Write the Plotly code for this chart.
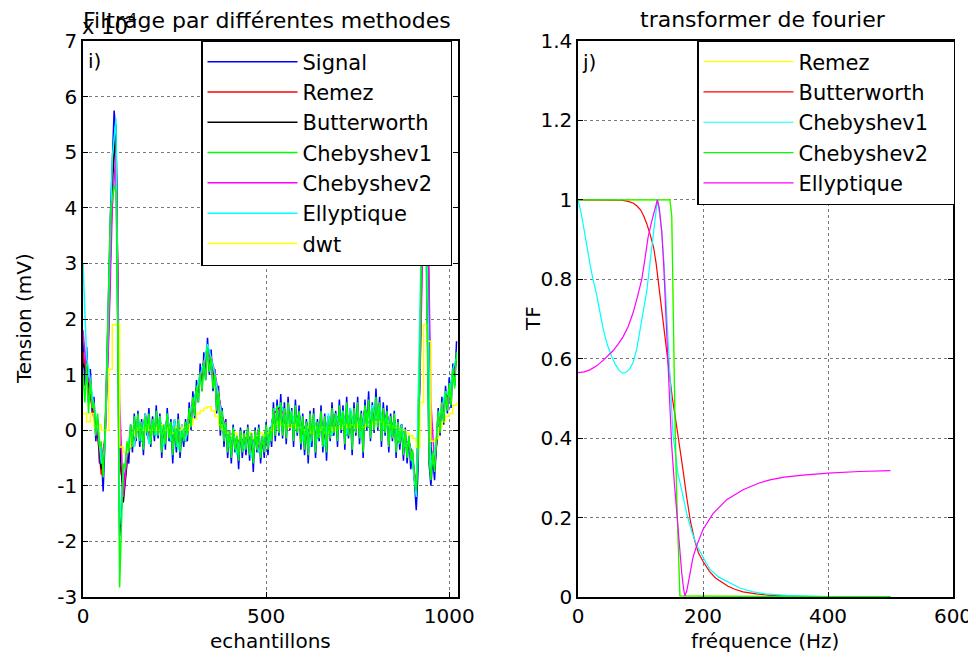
import plotly.graph_objects as go

# ---------------- Left panel data (values in units of 1e-4 mV) ----------------
samples_5 = list(range(0, 1025, 5))    # sample index, step 5
samples_10 = list(range(0, 1025, 10))  # sample index, step 10

signal = [
    1.6, 0.8, 1.5, 0.5, 1.1, 0.3, 0.6, -0.2, 0.2, -0.6,
    -0.4, -1.1, -0.2, 1.2, 2.5, 3.9, 4.8, 5.75, 5.3, 1.5,
    -1.9, -1.4, -0.8, -0.9, -0.3, -0.6, 0.1, -0.4, 0.3, -0.2,
    0.35, -0.3, 0.2, -0.45, 0.3, -0.1, 0.4, -0.3, 0.25, -0.2,
    0.45, -0.15, 0.3, -0.5, 0.1, -0.35, 0.4, -0.2, 0.2, -0.6,
    0.1, -0.4, 0.3, -0.5, 0.0, -0.3, 0.2, -0.2, 0.5, 0.0,
    0.7, 0.2, 0.9, 0.5, 1.2, 0.7, 1.4, 0.9, 1.66, 1.0,
    1.45, 0.7, 1.1, 0.3, 0.8, -0.1, 0.4, -0.3, 0.2, -0.5,
    0.0, -0.6, 0.1, -0.4, -0.1, -0.7, 0.05, -0.5, 0.0, -0.45,
    0.1, -0.55, -0.05, -0.75, 0.05, -0.4, 0.1, -0.6, -0.1, -0.5,
    0.15, -0.45, 0.05, -0.3, 0.5, -0.2, 0.55, -0.1, 0.65, -0.15,
    0.5, -0.25, 0.6, 0.0, 0.4, -0.3, 0.55, -0.1, 0.45, -0.35,
    0.3, -0.45, 0.2, -0.6, 0.35, -0.3, 0.4, -0.5, 0.2, -0.2,
    0.45, -0.4, 0.3, -0.55, 0.25, -0.2, 0.5, -0.1, 0.35, -0.3,
    0.55, -0.05, 0.45, -0.35, 0.6, -0.15, 0.4, -0.45, 0.5, -0.1,
    0.6, -0.25, 0.35, -0.5, 0.55, 0.0, 0.7, -0.2, 0.5, -0.05,
    0.75, 0.0, 0.6, -0.3, 0.5, -0.1, 0.45, -0.4, 0.3, -0.2,
    0.35, -0.5, 0.2, -0.35, 0.1, -0.55, 0.05, -0.6, -0.1, -0.7,
    -0.4, -0.9, -1.44, -0.7, 1.5, 4.0, 5.3, 4.8, 1.5, -0.6,
    -1.0, -0.5, -0.9, -0.2, 0.4, -0.1, 0.6, 0.1, 0.8, 0.3,
    0.95, 0.4, 1.2, 0.8, 1.6,
]

chebyshev1 = [
    1.0, 0.5, 1.2, 0.3, 0.9, 0.4, 0.5, -0.1, 0.3, -0.3,
    -0.2, -0.85, -0.1, 1.0, 2.5, 3.9, 4.2, 4.4, 4.3, 2.0,
    -2.83, -1.5, -0.6, -0.7, -0.2, -0.4, 0.1, -0.3, 0.25, -0.15,
    0.3, -0.2, 0.15, -0.35, 0.25, -0.05, 0.3, -0.25, 0.2, -0.1,
    0.35, -0.1, 0.25, -0.4, 0.1, -0.25, 0.3, -0.15, 0.15, -0.45,
    0.05, -0.3, 0.2, -0.4, 0.0, -0.2, 0.15, -0.1, 0.4, 0.05,
    0.6, 0.25, 0.8, 0.5, 1.05, 0.7, 1.25, 0.9, 1.5, 1.05,
    1.3, 0.75, 1.0, 0.35, 0.7, 0.0, 0.35, -0.2, 0.15, -0.4,
    0.0, -0.5, 0.05, -0.35, -0.1, -0.55, 0.0, -0.4, -0.05, -0.35,
    0.05, -0.45, -0.05, -0.6, 0.0, -0.35, 0.05, -0.5, -0.1, -0.4,
    0.1, -0.35, 0.05, -0.2, 0.4, -0.1, 0.45, -0.05, 0.5, -0.1,
    0.4, -0.15, 0.5, 0.05, 0.35, -0.2, 0.45, -0.05, 0.35, -0.25,
    0.25, -0.35, 0.15, -0.45, 0.3, -0.2, 0.3, -0.4, 0.15, -0.15,
    0.35, -0.3, 0.25, -0.4, 0.2, -0.15, 0.4, -0.05, 0.3, -0.2,
    0.45, 0.0, 0.35, -0.25, 0.5, -0.1, 0.35, -0.35, 0.4, -0.05,
    0.5, -0.15, 0.3, -0.4, 0.45, 0.05, 0.55, -0.15, 0.4, 0.0,
    0.6, 0.05, 0.5, -0.2, 0.4, -0.05, 0.35, -0.3, 0.25, -0.15,
    0.3, -0.4, 0.15, -0.25, 0.05, -0.45, 0.0, -0.5, -0.1, -0.55,
    -0.35, -0.8, -1.1, -0.5, 1.2, 3.8, 4.5, 4.0, 1.2, -0.5,
    -0.9, -0.4, -0.75, -0.15, 0.35, -0.05, 0.5, 0.15, 0.7, 0.35,
    0.85, 0.45, 1.1, 0.75, 1.4,
]

remez = [
    1.4, 0.9, 0.6, 0.2, -0.1, -0.8, -0.1, 2.0, 4.6, 5.4,
    -0.6, -1.0, -0.5, -0.1, -0.3, 0.2, -0.2, 0.3, -0.2, 0.2,
    -0.1, 0.2, -0.3, 0.2, -0.2, 0.2, -0.3, 0.1, -0.2, 0.2,
    0.4, 0.7, 0.95, 1.15, 1.5, 1.25, 0.95, 0.6, 0.2, 0.0,
    -0.3, -0.05, -0.4, -0.1, -0.35, -0.05, -0.45, -0.1, -0.4, -0.2,
    0.0, -0.15, 0.3, 0.35, 0.4, 0.3, 0.05, 0.3, 0.0, 0.3,
    -0.15, 0.15, -0.25, 0.2, -0.15, 0.2, -0.25, 0.25, -0.1, 0.3,
    0.1, 0.3, -0.1, 0.35, 0.0, 0.3, -0.1, 0.4, 0.05, 0.4,
    0.2, 0.4, 0.0, 0.3, -0.1, 0.2, -0.2, 0.1, -0.3, -0.2,
    -0.5, -1.1, 1.5, 5.0, 4.0, -0.5, -0.6, 0.1, 0.4, 0.65,
    0.6, 1.0, 1.25,
]

butterworth = [
    1.2, 1.0, 0.7, 0.3, 0.0, -0.7, -0.2, 1.8, 4.4, 5.5,
    -0.2, -1.3, -0.6, -0.2, -0.25, 0.15, -0.2, 0.25, -0.2, 0.15,
    -0.05, 0.2, -0.25, 0.25, -0.2, 0.15, -0.3, 0.05, -0.2, 0.2,
    0.4, 0.75, 0.95, 1.2, 1.5, 1.3, 1.0, 0.65, 0.25, 0.0,
    -0.25, -0.05, -0.4, -0.1, -0.3, -0.05, -0.45, -0.1, -0.35, -0.2,
    0.0, -0.15, 0.3, 0.35, 0.45, 0.3, 0.05, 0.3, 0.0, 0.3,
    -0.15, 0.15, -0.25, 0.2, -0.15, 0.2, -0.25, 0.25, -0.1, 0.3,
    0.1, 0.3, -0.1, 0.35, 0.0, 0.3, -0.1, 0.4, 0.05, 0.4,
    0.2, 0.4, 0.0, 0.3, -0.1, 0.2, -0.2, 0.1, -0.3, -0.2,
    -0.5, -1.2, 1.0, 4.8, 4.5, -0.3, -0.7, 0.1, 0.4, 0.65,
    0.6, 1.05, 1.25,
]

chebyshev2 = [
    1.8, 1.0, 0.8, 0.35, 0.0, -0.5, -0.2, 1.6, 4.0, 5.0,
    0.5, -1.2, -0.5, -0.2, -0.3, 0.2, -0.15, 0.25, -0.2, 0.15,
    -0.05, 0.2, -0.25, 0.25, -0.15, 0.15, -0.3, 0.05, -0.15, 0.25,
    0.4, 0.7, 0.95, 1.15, 1.45, 1.3, 1.05, 0.65, 0.25, 0.05,
    -0.25, 0.0, -0.4, -0.1, -0.3, -0.05, -0.45, -0.1, -0.35, -0.2,
    0.0, -0.15, 0.3, 0.35, 0.4, 0.25, 0.1, 0.3, 0.0, 0.25,
    -0.15, 0.1, -0.25, 0.2, -0.1, 0.15, -0.25, 0.25, -0.05, 0.25,
    0.1, 0.3, -0.05, 0.35, 0.0, 0.3, -0.1, 0.35, 0.05, 0.4,
    0.2, 0.4, 0.0, 0.25, -0.05, 0.15, -0.15, 0.05, -0.25, -0.2,
    -0.5, -1.0, 0.8, 4.2, 4.8, 0.5, -0.6, 0.1, 0.35, 0.6,
    0.55, 1.0, 1.2,
]

ellyptique = [
    3.0, 1.3, 0.9, 0.4, 0.1, -0.6, -0.3, 2.4, 4.9, 5.6,
    -1.7, -0.8, -0.4, 0.0, -0.3, 0.25, -0.2, 0.3, -0.25, 0.2,
    -0.1, 0.25, -0.3, 0.3, -0.2, 0.2, -0.35, 0.1, -0.2, 0.3,
    0.45, 0.75, 1.0, 1.2, 1.55, 1.3, 1.0, 0.6, 0.2, 0.0,
    -0.3, 0.0, -0.45, -0.1, -0.35, -0.05, -0.5, -0.1, -0.4, -0.2,
    0.0, -0.2, 0.35, 0.4, 0.45, 0.3, 0.1, 0.35, 0.0, 0.3,
    -0.2, 0.15, -0.3, 0.25, -0.15, 0.2, -0.3, 0.3, -0.1, 0.3,
    0.1, 0.35, -0.1, 0.4, 0.0, 0.35, -0.15, 0.4, 0.05, 0.45,
    0.2, 0.45, 0.0, 0.3, -0.1, 0.2, -0.2, 0.1, -0.3, -0.2,
    -0.6, -1.2, 2.5, 5.5, 3.0, -0.7, -0.4, 0.2, 0.4, 0.7,
    0.6, 1.1, 1.3,
]

dwt = [
    0.3, 0.15, 0.3, 0.05, 0.1, 0.0, 0.0, 1.1, 1.9, 1.9,
    -0.3, -0.4, -0.3, -0.05, 0.0, 0.05, 0.0, 0.1, 0.0, 0.05,
    0.0, 0.1, 0.0, 0.05, -0.05, 0.05, 0.0, 0.05, 0.0, 0.1,
    0.2, 0.3, 0.35, 0.4, 0.42, 0.35, 0.25, 0.1, 0.0, -0.05,
    -0.1, -0.05, -0.15, -0.1, -0.1, -0.05, -0.15, -0.1, -0.05, -0.1,
    -0.05, 0.0, 0.1, 0.15, 0.1, 0.1, 0.05, 0.1, 0.05, 0.05,
    0.0, 0.05, -0.05, 0.05, 0.0, 0.05, -0.05, 0.05, 0.0, 0.05,
    0.05, 0.1, 0.05, 0.1, 0.05, 0.1, 0.05, 0.1, 0.1, 0.15,
    0.15, 0.15, 0.1, 0.1, 0.05, 0.05, 0.0, 0.0, -0.05, -0.1,
    -0.15, -0.3, 0.5, 1.9, 1.6, -0.2, -0.15, 0.05, 0.15, 0.25,
    0.3, 0.45, 0.5,
]

left_xticks = [0, 500, 1000]
left_yticks = [-3, -2, -1, 0, 1, 2, 3, 4, 5, 6, 7]
left_yticktext = ["-3", "-2", "-1", "0", "1", "2", "3", "4", "5", "6", "7"]

# ---------------- Right panel data (frequency response) ----------------
f_remez = [0, 100, 140, 147, 150, 152, 155, 158, 161, 163, 200, 300, 400, 500]
tf_remez = [1, 1, 1, 1, 0.96, 0.71, 0.46, 0.25, 0.1, 0.003, 0.002, 0.001, 0.001, 0.001]

f_butter = [0, 60, 70, 80, 88, 94, 100, 105, 110, 116, 121, 125, 128, 132, 136, 140, 144, 147, 151,
            155, 159, 163, 168, 174, 180, 187, 193, 200, 210, 220, 227, 240, 250, 264, 285, 307, 350,
            400, 500]
tf_butter = [1, 1, 0.999, 0.996, 0.992, 0.985, 0.975, 0.96, 0.94, 0.91, 0.88, 0.84, 0.80, 0.75, 0.70,
             0.64, 0.59, 0.55, 0.50, 0.46, 0.42, 0.38, 0.32, 0.25, 0.19, 0.14, 0.11, 0.09, 0.065,
             0.048, 0.04, 0.027, 0.02, 0.013, 0.008, 0.004, 0.001, 0, 0]

f_cheb1 = [0, 4, 8, 13, 19, 24, 30, 36, 41, 47, 54, 60, 66, 72, 78, 83, 88, 94, 99, 105, 110, 114,
           118, 121, 124, 127, 131, 134, 138, 142, 145, 147, 150, 152, 156, 160, 163, 168, 174, 182,
           190, 200, 211, 225, 243, 260, 280, 300, 334, 400, 500]
tf_cheb1 = [1.0, 0.975, 0.94, 0.89, 0.84, 0.80, 0.76, 0.71, 0.67, 0.635, 0.605, 0.585, 0.57, 0.563,
            0.567, 0.575, 0.59, 0.625, 0.67, 0.72, 0.77, 0.825, 0.88, 0.93, 0.97, 1.0, 0.96, 0.92,
            0.83, 0.71, 0.62, 0.55, 0.47, 0.41, 0.36, 0.31, 0.29, 0.25, 0.21, 0.165, 0.13, 0.10,
            0.07, 0.05, 0.035, 0.022, 0.013, 0.008, 0.004, 0.001, 0.0]

f_cheb2 = [0, 147, 150, 152, 155, 158, 161, 163, 200, 300, 400, 500]
tf_cheb2 = [1, 1, 0.96, 0.71, 0.46, 0.25, 0.1, 0.003, 0.002, 0.001, 0.001, 0.001]

f_ellip = [0, 10, 19, 30, 41, 48, 56, 64, 72, 80, 88, 95, 102, 107, 112, 117, 121, 124, 127, 130,
           134, 137, 139, 142, 144, 147, 150, 154, 158, 162, 166, 169, 171, 174, 177, 179, 184, 190,
           200, 216, 238, 264, 290, 307, 330, 360, 400, 450, 500]
tf_ellip = [0.565, 0.567, 0.572, 0.582, 0.597, 0.607, 0.62, 0.636, 0.655, 0.68, 0.715, 0.755, 0.80,
            0.85, 0.905, 0.94, 0.965, 0.985, 1.0, 0.98, 0.92, 0.84, 0.755, 0.66, 0.59, 0.48, 0.38,
            0.29, 0.21, 0.13, 0.06, 0.02, 0.003, 0.015, 0.04, 0.06, 0.10, 0.13, 0.17, 0.21, 0.245,
            0.27, 0.287, 0.295, 0.302, 0.307, 0.312, 0.316, 0.318]

right_xticks = [0, 200, 400, 600]
right_yticks = [0, 0.2, 0.4, 0.6, 0.8, 1.0, 1.2, 1.4]
right_yticktext = ["0", "0.2", "0.4", "0.6", "0.8", "1", "1.2", "1.4"]

# ---------------- Figure ----------------
# The page body has an 8 px margin, so the figure is 8 px smaller and positions
# below are given in window pixels, then converted to paper fractions.
OFF = 8
W, H = 976 - OFF, 659 - OFF
def X(px):
    return (px - OFF) / W
def Y(py):
    return 1 - (py - OFF) / H

FONT = "DejaVu Sans"
NB = "\u00a0\u00a0"  # small right padding in the widest legend entry
fig = go.Figure()

left_series = [
    ("Signal", samples_5, signal, "#0000ff", 1, "linear"),
    ("Remez", samples_10, remez, "#ff0000", 2, "linear"),
    ("Butterworth", samples_10, butterworth, "#000000", 3, "linear"),
    ("Chebyshev2" + NB, samples_10, chebyshev2, "#ff00ff", 5, "linear"),
    ("Ellyptique", samples_10, ellyptique, "#00ffff", 6, "linear"),
    ("dwt", samples_10, dwt, "#ffff00", 7, "hv"),
    ("Chebyshev1", samples_5, chebyshev1, "#00ff00", 4, "linear"),
]
for name, xs, ys, col, rank, shape in left_series:
    fig.add_trace(go.Scatter(x=xs, y=ys, mode="lines", name=name, legendrank=rank,
                             line=dict(color=col, width=1.5, shape=shape),
                             xaxis="x", yaxis="y", legend="legend"))

right_series = [
    ("Remez", f_remez, tf_remez, "#ffff00"),
    ("Butterworth", f_butter, tf_butter, "#ff0000"),
    ("Chebyshev1", f_cheb1, tf_cheb1, "#00ffff"),
    ("Chebyshev2" + NB + "\u00a0", f_cheb2, tf_cheb2, "#00ff00"),
    ("Ellyptique", f_ellip, tf_ellip, "#ff00ff"),
]
for name, xs, ys, col in right_series:
    fig.add_trace(go.Scatter(x=xs, y=ys, mode="lines", name=name,
                             line=dict(color=col, width=1.2),
                             xaxis="x2", yaxis="y2", legend="legend2"))

axis_common = dict(
    showline=True, linecolor="black", linewidth=1.5, mirror="ticks",
    ticks="inside", ticklen=5, tickcolor="black", tickwidth=1,
    showgrid=True, gridcolor="#7a7a7a", griddash="dot", gridwidth=1,
    zeroline=False, automargin=False,
    tickfont=dict(family=FONT, size=20, color="black"),
)

legend_common = dict(
    xanchor="left", yanchor="top", bgcolor="white", bordercolor="black", borderwidth=1.5,
    font=dict(family=FONT, size=21, color="black"), itemwidth=90, traceorder="normal",
)

fig.update_layout(
    width=W, height=H, autosize=False, template="none",
    margin=dict(l=0, r=0, t=0, b=0),
    paper_bgcolor="white", plot_bgcolor="white",
    showlegend=True,
    xaxis=dict(domain=[X(83), X(458)], range=[0, 1024], tickvals=left_xticks, anchor="y", **axis_common),
    yaxis=dict(domain=[Y(597), Y(41)], range=[-3, 7], tickvals=left_yticks, ticktext=left_yticktext,
               anchor="x", **axis_common),
    xaxis2=dict(domain=[X(578), X(953)], range=[0, 600], tickvals=right_xticks, anchor="y2", **axis_common),
    yaxis2=dict(domain=[Y(597), Y(41)], range=[0, 1.4], tickvals=right_yticks, ticktext=right_yticktext,
                anchor="x2", **axis_common),
    legend=dict(x=X(201), y=Y(40), **legend_common),
    legend2=dict(x=X(697), y=Y(40), **legend_common),
)

def ann(text, px, py, size=20, xanchor="center", angle=0):
    return dict(text=text, x=X(px), y=Y(py), xanchor=xanchor, yanchor="middle", textangle=angle,
                xref="paper", yref="paper", showarrow=False,
                font=dict(family=FONT, size=size, color="black"))

annotations = [
    ann("Filtrage par différentes methodes", 267, 20, size=22),
    ann("x 10", 80, 27, size=21, xanchor="left"),
    ann("-4", 121, 18, size=14, xanchor="left"),
    ann("transformer de fourier", 763, 19, size=22),
    ann("i)", 86, 61, xanchor="left"),
    ann("j)", 580, 62, xanchor="left"),
    ann("Tension (mV)", 24, 319, angle=-90),
    ann("TF", 533, 319, angle=-90),
    ann("echantillons", 270, 641),
    ann("fréquence (Hz)", 765, 641),
]
fig.update_layout(annotations=annotations)

fig.write_html("out.html")
